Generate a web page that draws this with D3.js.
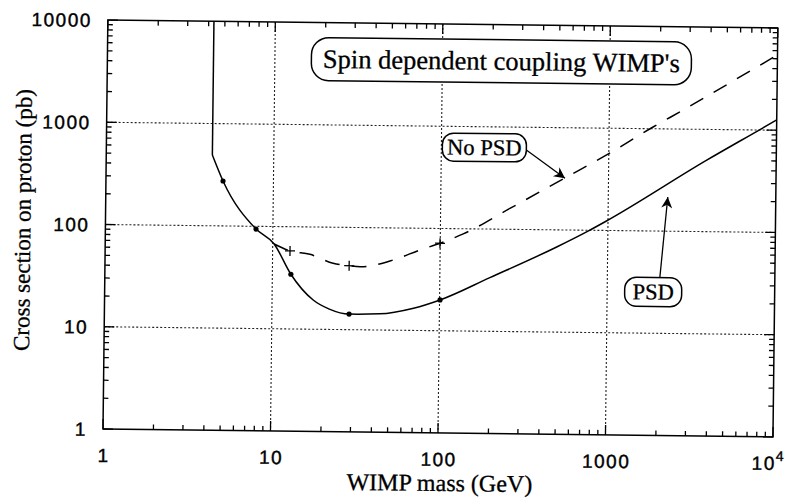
<!DOCTYPE html>
<html><head><meta charset="utf-8">
<script src="https://cdn.jsdelivr.net/npm/d3@7"></script>
<style>body{margin:0;background:#fff}</style>
</head><body>
<svg id="c" width="793" height="498"></svg>
<script>
const xTicks = [1, 10, 100, 1000, 10000];
const xTickLabels = ["1", "10", "100", "1000", "10^4"];
const yTicks = [1, 10, 100, 1000, 10000];
const yTickLabels = ["1", "10", "100", "1000", "10000"];

// PSD curve (solid)
const psdMass = [4.3, 4.3, 5.0, 7.93, 10.2, 12.9, 17.6, 22, 28.9, 44, 70, 100.7, 199, 496, 761, 973, 3846, 7960, 10000];
const psdSigma = [10000, 492, 275, 94, 67.5, 34.3, 19.3, 15.8, 14.2, 14.4, 16.5, 20, 33.5, 68, 98, 123, 500, 1010, 1260];
const psdMarkM = [5.0, 7.93, 12.9, 28.9, 100.7];
const psdMarkS = [275, 94, 34.3, 14.2, 20];

// No PSD curve (dashed)
const npMass = [10.2, 12.7, 16.7, 23, 28.7, 33.5, 52.6, 75.8, 99.7, 137, 259, 550, 971, 1830, 2766, 7160, 10000];
const npSigma = [67.5, 58, 54, 44.4, 42.2, 41.4, 48.6, 61.3, 71.7, 89, 160, 323, 548, 1040, 1540, 3920, 5450];
const npMarkM = [12.7, 28.7, 99.7];
const npMarkS = [58, 42.2, 71.7];

const svg = d3.select("#c");
const L = 103, R = 773, T = 20, B = 429;
const x = d3.scaleLog().domain([1, 10000]).range([L, R]);
const y = d3.scaleLog().domain([1, 10000]).range([B, T]);

// whole page is slightly rotated, like the scanned original
const root = svg.append("g").attr("transform", `rotate(0.68, ${L}, ${B})`);

// grid
const g = root.append("g");
[10, 100, 1000].forEach(v => {
  g.append("line").attr("x1", x(v)).attr("x2", x(v)).attr("y1", T).attr("y2", B)
    .attr("stroke", "#222").attr("stroke-width", 1.1).attr("stroke-dasharray", "2,2");
  g.append("line").attr("x1", L).attr("x2", R).attr("y1", y(v)).attr("y2", y(v))
    .attr("stroke", "#222").attr("stroke-width", 1.1).attr("stroke-dasharray", "2,2");
});

// minor / major ticks
const allTicks = [];
for (let d = 1; d < 10000; d *= 10) for (let k = 1; k < 10; k++) allTicks.push(d * k);
allTicks.push(10000);
allTicks.forEach(v => {
  const major = Math.abs(Math.log10(v) - Math.round(Math.log10(v))) < 1e-9;
  const len = major ? 10 : 5;
  g.append("line").attr("x1", x(v)).attr("x2", x(v)).attr("y1", B).attr("y2", B - len).attr("stroke", "#000").attr("stroke-width", 1.3);
  g.append("line").attr("x1", x(v)).attr("x2", x(v)).attr("y1", T).attr("y2", T + len).attr("stroke", "#000").attr("stroke-width", 1.3);
  g.append("line").attr("y1", y(v)).attr("y2", y(v)).attr("x1", L).attr("x2", L + len).attr("stroke", "#000").attr("stroke-width", 1.3);
  g.append("line").attr("y1", y(v)).attr("y2", y(v)).attr("x1", R).attr("x2", R - len).attr("stroke", "#000").attr("stroke-width", 1.3);
});

// frame
root.append("rect").attr("x", L).attr("y", T).attr("width", R - L).attr("height", B - T)
  .attr("fill", "none").attr("stroke", "#000").attr("stroke-width", 1.5);

// tick labels
const tf = "'Liberation Sans', Arial, sans-serif";
function tickText(sel) {
  return sel.attr("font-family", tf).attr("font-size", 19).attr("letter-spacing", 1.5)
    .attr("fill", "#000").attr("stroke", "#000").attr("stroke-width", 0.4);
}
xTicks.forEach((v, i) => {
  const lab = xTickLabels[i];
  const t = tickText(root.append("text")).attr("y", 462);
  if (lab.includes("^")) {
    const [b, e] = lab.split("^");
    t.attr("x", x(v) - 21).attr("text-anchor", "start");
    t.append("tspan").text(b);
    t.append("tspan").attr("dy", -9).attr("font-size", 14).text(e);
  } else t.attr("x", x(v) + 1).attr("text-anchor", "middle").text(lab);
});
yTicks.forEach((v, i) => {
  tickText(root.append("text")).attr("x", 87).attr("y", y(v) + 7).attr("text-anchor", "end").text(yTickLabels[i]);
});

// axis titles
const sf = "'Liberation Serif', 'Times New Roman', serif";
root.append("text").attr("x", 440).attr("y", 487).attr("text-anchor", "middle")
  .attr("font-family", sf).attr("font-size", 24).attr("stroke", "#000").attr("stroke-width", 0.3)
  .text("WIMP mass (GeV)");
root.append("text").attr("transform", "translate(28,221) rotate(-90)").attr("text-anchor", "middle")
  .attr("font-family", sf).attr("font-size", 23).attr("stroke", "#000").attr("stroke-width", 0.3)
  .text("Cross section on proton (pb)");

// curves
const line = d3.line().x(d => x(d[0])).y(d => y(d[1])).curve(d3.curveMonotoneX);
const psd = psdMass.map((m, i) => [m, psdSigma[i]]);
root.append("path").attr("d", d3.line().x(d => x(d[0])).y(d => y(d[1]))(psd.slice(0, 2)))
  .attr("fill", "none").attr("stroke", "#000").attr("stroke-width", 1.5);
root.append("path").attr("d", line(psd.slice(1)))
  .attr("fill", "none").attr("stroke", "#000").attr("stroke-width", 1.5);
const np = npMass.map((m, i) => [m, npSigma[i]]);
root.append("path").attr("d", line(np))
  .attr("fill", "none").attr("stroke", "#000").attr("stroke-width", 1.5).attr("stroke-dasharray", "15,12");

// markers
psdMarkM.forEach((m, i) => {
  root.append("circle").attr("cx", x(m)).attr("cy", y(psdMarkS[i])).attr("r", 2.6).attr("fill", "#000");
});
npMarkM.forEach((m, i) => {
  const cx = x(m), cy = y(npMarkS[i]);
  root.append("path").attr("d", `M${cx-5},${cy}H${cx+5}M${cx},${cy-5}V${cy+5}`).attr("stroke", "#000").attr("stroke-width", 1.3);
});

// annotations
function box(x0, y0, w, h, txt, fs) {
  root.append("rect").attr("x", x0).attr("y", y0).attr("width", w).attr("height", h)
    .attr("rx", h / 2.5).attr("ry", h / 2.5).attr("fill", "#fff").attr("stroke", "#000").attr("stroke-width", 1.5);
  root.append("text").attr("x", x0 + w / 2).attr("y", y0 + h / 2 + fs * 0.33).attr("text-anchor", "middle")
    .attr("font-family", sf).attr("font-size", fs).attr("stroke", "#000").attr("stroke-width", 0.3).text(txt);
}
box(307, 35, 380, 43, "Spin dependent coupling WIMP's", 26.5);
box(439, 129, 84, 28, "No PSD", 22.5);
box(623, 271, 57, 29, "PSD", 22.5);

svg.append("defs").append("marker").attr("id", "ah").attr("viewBox", "0 0 10 10")
  .attr("refX", 10).attr("refY", 5).attr("markerWidth", 16).attr("markerHeight", 11)
  .attr("markerUnits", "userSpaceOnUse").attr("orient", "auto")
  .append("path").attr("d", "M0,0L10,5L0,10L3,5Z").attr("fill", "#000");
root.append("line").attr("x1", 523).attr("y1", 145).attr("x2", 562).attr("y2", 172.8)
  .attr("stroke", "#000").attr("stroke-width", 1.3).attr("marker-end", "url(#ah)");
root.append("line").attr("x1", 658).attr("y1", 271).attr("x2", 665).attr("y2", 190.3)
  .attr("stroke", "#000").attr("stroke-width", 1.3).attr("marker-end", "url(#ah)");
</script>
</body></html>
